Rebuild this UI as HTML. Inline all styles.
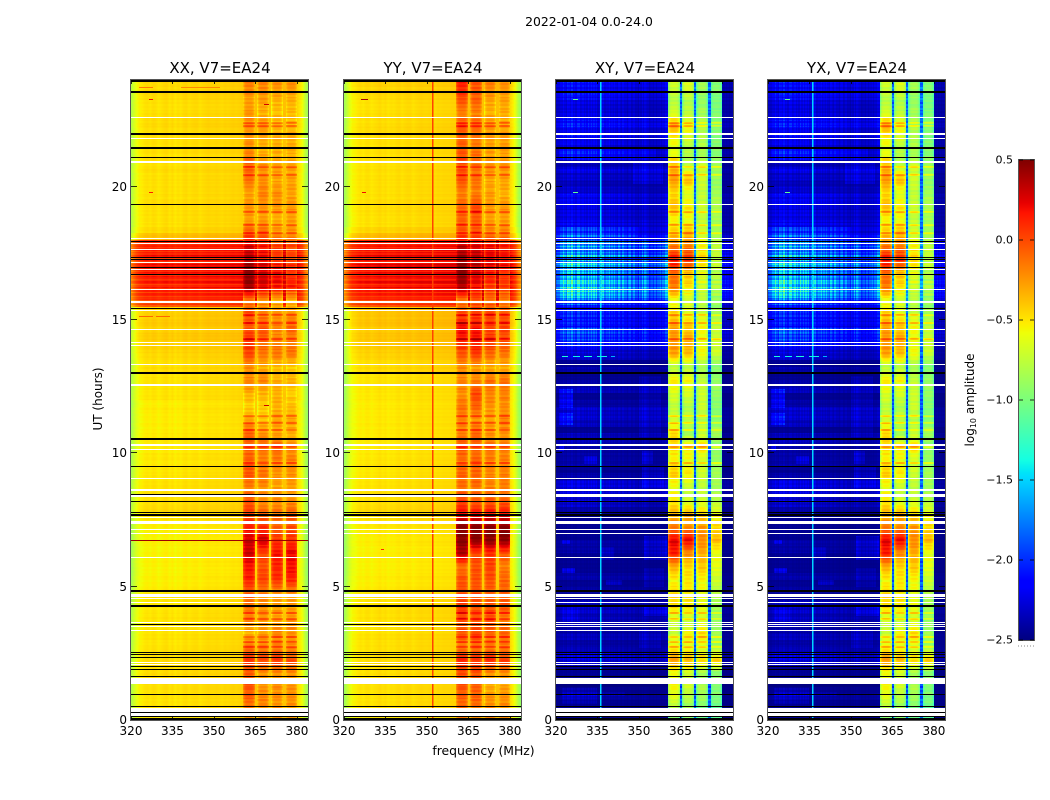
<!DOCTYPE html>
<html>
<head>
<meta charset="utf-8">
<title>2022-01-04 spectrogram</title>
<style>
html,body{margin:0;padding:0;background:#fff;}
#figure{position:relative;width:1050px;height:800px;overflow:hidden;background:#fff;font-family:"DejaVu Sans","Liberation Sans",sans-serif;}
canvas{position:absolute;image-rendering:pixelated;}
svg{position:absolute;left:0;top:0;}
text{font-family:"DejaVu Sans","Liberation Sans",sans-serif;fill:#000;}
</style>
</head>
<body>
<div id="figure">
<canvas id="cv0" width="177" height="640" style="left:131px;top:80px"></canvas>
<canvas id="cv1" width="177" height="640" style="left:344px;top:80px"></canvas>
<canvas id="cv2" width="177" height="640" style="left:556px;top:80px"></canvas>
<canvas id="cv3" width="177" height="640" style="left:768px;top:80px"></canvas>
<canvas id="cbar" width="15" height="480" style="left:1019px;top:160px"></canvas>
<svg id="ov" width="1050" height="800">
<text x="589" y="26" font-size="12.4" text-anchor="middle">2022-01-04 0.0-24.0</text>
<text x="483.5" y="755" font-size="12.4" text-anchor="middle">frequency (MHz)</text>
<text transform="translate(102,399) rotate(-90)" font-size="12" text-anchor="middle">UT (hours)</text>
<text transform="translate(974,400) rotate(-90)" font-size="12" text-anchor="middle">log<tspan font-size="8" dy="2">10</tspan><tspan dy="-2"> amplitude</tspan></text>
</svg>
</div>
<script>
// ---- categories / ticks ----
const panelTitles = ["XX, V7=EA24","YY, V7=EA24","XY, V7=EA24","YX, V7=EA24"];
const freqTicks = [320,335,350,365,380];
const hourTicks = [0,5,10,15,20];
const cbarTicks = [0.5,0,-0.5,-1,-1.5,-2,-2.5];
const cbarTickLabels = ["0.5","0.0","\u22120.5","\u22121.0","\u22121.5","\u22122.0","\u22122.5"];

// ---- frequency bands (MHz) ----
const bandStarts = [360.6,365.7,370.8,375.9];
const bandEnds = [364.8,369.9,374.9,380.1];

// ---- per-MHz channel profile, parallel hands (log10 amplitude offset) ----
const xxChannels = [-.36,-.24,-.14,-.08,-.06,-.03,-.02,-.04,-.01,-.02,-.05,-.03,-.01,0,-.04,-.01,-.05,-.02,-.04,-.01,0,-.03,-.01,0,0,-.03,-.01,0,.01,0,0,.01,0,-.01,.01,0,.01,.02,.01,.02,.03,.04,.04,.04,.04,.04,.04,.04,.04,.04,.04,.04,.04,.04,.04,.04,.04,.04,.04,.04,.02,-.04,-.12,-.3,-.42];
const yyChannels = [-.42,-.3,-.18,-.1,-.08,-.05,-.03,-.05,-.02,-.02,-.05,-.03,-.02,0,-.03,-.01,-.04,-.02,-.03,-.01,0,-.03,-.01,0,0,-.03,-.01,0,.01,0,0,.01,0,-.01,.01,0,.01,.01,.01,.02,.02,.03,.03,.03,.03,.03,.03,.03,.03,.03,.03,.03,.03,.03,.03,.03,.03,.03,.03,.03,.01,-.06,-.16,-.34,-.46];

// ---- per-MHz channel weight, cross hands ----
const crossChannels = [.6,.85,1,1,1.1,1.1,1,1.05,.95,.95,1,1.05,.95,1,.95,.9,1.1,.9,.85,.9,.85,.8,.85,.75,.8,.7,.7,.65,.7,.6,.65,.75,.85,.6,.55,.55,.6,.65,.7,.8,1,1,1,1,1,1,1,1,1,1,1,1,1,1,1,1,1,1,1,1,.4,.35,.35,.3,.3];
// fine channel-to-channel ripple (half-MHz steps, cycling)
const crossRipple = [1,1.16,.84,1.08,.9,1.22,.95,.78,1.14,1.03,.86,1.2,.92,1.06,.8,1.12,1.26,.9,.97,1.16,.84,1.03,.78,1.14,.95,1.22,.86,1.08,.92,1.16,.8,1,1.12,.9,1.2,.84,1.06];
// fine time-to-time ripple (0.07h steps, cycling)
const timeRipple = [.1,-.25,.3,-.1,.2,-.35,.05,.35,-.2,.15,-.3,.25,-.05,.4,-.15,-.3,.2,.1,-.25,.3,-.4,.15,.05,-.2,.35,-.1,.25,-.3,.1,-.15,.3,-.05,.2,-.35,.15,.4,-.25,.05,-.1,.25,-.2];

// ---- quarter-hour background levels, 0h to 24h, 4 values per hour ----
const xxBackground = [
-.47,-.47,-.47,-.47, -.46,-.46,-.45,-.45, -.44,-.46,-.46,-.47, -.47,-.47,-.48,-.47,
-.48,-.48,-.48,-.49, -.51,-.51,-.52,-.51, -.52,-.52,-.51,-.52, -.51,-.5,-.46,-.44,
-.45,-.46,-.46,-.47, -.48,-.48,-.49,-.48, -.49,-.49,-.49,-.5, -.5,-.5,-.49,-.5,
-.47,-.48,-.47,-.47, -.45,-.46,-.44,-.42, -.41,-.39,-.41,-.39, -.4,-.42,.04,.1,
.12,.12,.14,.14, .14,.15,.13,.1, -.36,-.44,-.46,-.46, -.46,-.45,-.46,-.46,
-.46,-.46,-.45,-.46, -.46,-.45,-.46,-.45, -.45,-.44,-.45,-.46, -.46,-.44,-.44,-.44];
const yyBackground = [
-.47,-.47,-.46,-.47, -.46,-.46,-.46,-.46, -.45,-.46,-.46,-.46, -.46,-.47,-.47,-.46,
-.46,-.47,-.47,-.48, -.5,-.5,-.51,-.51, -.51,-.51,-.5,-.5, -.49,-.48,-.45,-.44,
-.45,-.46,-.46,-.47, -.48,-.48,-.47,-.48, -.48,-.49,-.49,-.49, -.49,-.49,-.49,-.49,
-.48,-.48,-.47,-.47, -.44,-.45,-.42,-.4, -.38,-.37,-.39,-.36, -.37,-.38,.06,.12,
.15,.16,.17,.16, .18,.18,.16,.13, -.34,-.42,-.46,-.46, -.45,-.45,-.46,-.46,
-.46,-.46,-.46,-.46, -.46,-.46,-.46,-.45, -.44,-.45,-.45,-.46, -.46,-.44,-.43,-.42];
const crossActivity = [
.1,.1,.1,.15, .1,.05,.1,.1, .25,.3,.2,.15, .2,.15,.2,.2,
.25,.2,.1,.15, .1,.15,.1,.1, .1,.15,.15,.1, .1,.1,.1,.15,
.25,.25,.3,.3, .15,.1,.15,.15, .15,.2,.2,.1, .2,.25,.25,.15,
.1,.2,.15,.1, .15,.1,.25,.3, .5,.6,.65,.45, .5,.45,.6,.95,
1,1.05,.85,.8, .9,.85,.75,.8, .5,.4,.35,.3, .3,.35,.35,.25,
.2,.25,.3,.2, .35,.35,.35,.4, .35,.45,.35,.3, .3,.4,.4,.4];

// ---- brighter noise patches in the cross hands ----
const patchFreqStarts = [321,348,320,321,321,350,351,330,321,351,336,322,352,322,338,352,352,322,350,322,322];
const patchFreqEnds = [356,358.6,350,326,326,358,355,335,323,359,341,325,360,327,344,360,359,328,358,335,345];
const patchHourStarts = [21.1,20.1,18.1,11.7,11.05,10.6,9.6,9.6,10.1,8.7,6,6.6,6,5.5,5.05,3.9,5,3.7,2.7,.6,.9];
const patchHourEnds = [21.4,20.9,18.5,12.4,11.5,12.9,10.1,9.9,10.3,9.5,6.5,6.75,6.9,5.7,5.25,4.3,5.7,4.2,3.4,1.2,1.05];
const patchDeltas = [.14,.14,.18,.2,.18,.1,.18,.14,.18,.14,.1,.14,.18,.18,.14,.18,.1,.07,.1,.07,.07];

// ---- fine stripes across the 15.5h-18h disturbance, 0.05h per value ----
const stormStripes = [-.08,.05,0,.08,-.05,.06,.02,-.06,.05,.08,-.1,.04,.06,-.04,.08,.02,-.08,.05,.1,0,-.06,.03,.07,-.03,.04,.08,-.05,.02,.06,-.07,.05,.09,0,-.04,.06,.03,-.08,.04,.08,-.02,.05,-.06,.07,.02,-.05,.06,.01,-.07,.04,.03];

// ---- half-hour band levels, 0h to 24h ----
const xxBand1 = [-.1,.05,.1,.05,.2,0,-.2,-.05,0,.05,.25,.3,.42,.42,.25,.15,.1,-.05,.1,.05,.05,.05,-.15,-.3,-.2,-.05,-.1,.15,.2,.1,.1,0,.55,.55,.48,.4,.1,-.15,-.1,-.15,0,.05,-.05,-.1,-.1,-.1,-.15,-.05];
const xxBand2 = [-.1,-.05,-.12,-.1,.15,-.05,-.15,-.1,-.1,-.05,.15,.1,.15,.42,.2,.05,-.1,-.1,0,-.05,0,-.1,-.25,-.3,-.2,-.05,-.2,0,.05,.1,-.05,-.1,.38,.4,.32,.28,.05,-.15,-.1,-.05,-.1,-.1,-.2,-.2,-.1,-.2,-.15,-.05];
const xxBand3 = [-.15,-.1,-.1,-.1,.2,-.05,-.05,-.15,-.15,-.1,.2,.25,.3,.2,.05,0,-.1,-.15,-.1,-.05,.05,-.15,-.15,-.2,-.2,-.2,-.25,0,-.05,-.05,-.1,-.2,.3,.3,.2,.15,-.1,-.2,-.1,-.1,-.15,-.15,-.2,-.2,-.2,-.25,-.2,-.1];
const xxBand4 = [-.15,-.1,-.1,-.1,.15,-.1,-.1,-.1,-.15,-.1,.25,.3,.35,.2,.1,.05,-.1,-.15,-.1,-.05,-.1,-.2,-.15,-.25,-.3,-.2,-.3,0,-.05,.05,-.1,-.2,.25,.2,.15,.1,-.1,-.15,-.1,-.15,-.15,-.15,-.2,-.2,-.2,-.25,-.2,-.1];
const yyBand1 = [0,.05,.1,.1,.25,-.05,.1,.1,.2,.1,.1,0,.5,.62,.62,.3,.15,0,.05,0,.1,-.05,-.05,0,-.1,-.05,-.1,.1,.25,.35,.1,0,.5,.55,.55,.45,.1,.05,.05,-.05,.1,.1,.1,.05,.1,-.05,.1,.25];
const yyBand2 = [-.05,.05,.05,.1,.2,0,.15,.1,.1,.1,.1,.1,.15,.62,.62,.3,.05,0,.05,.05,0,.05,-.1,.05,.15,-.05,-.15,.2,.3,.3,.15,.1,.3,.38,.45,.38,.1,.05,.15,-.05,0,0,0,-.05,.05,-.05,.05,.1];
const yyBand3 = [-.1,-.1,-.2,-.1,.25,-.05,.05,.1,.1,.05,.1,.15,.2,.62,.62,.3,.05,-.05,-.05,-.05,0,-.1,-.15,-.1,-.05,0,-.2,.05,.2,.15,.15,0,.18,.25,.38,.32,-.05,-.15,-.1,-.15,-.15,-.1,-.15,-.15,-.1,-.2,-.15,-.05];
const yyBand4 = [-.1,-.1,-.15,-.1,.2,-.05,.05,-.05,.1,.05,.05,-.05,.1,.62,.62,.3,.05,-.05,-.05,-.05,-.05,-.1,-.05,-.1,-.05,0,-.2,0,.1,.15,.1,-.05,.15,.2,.32,.25,-.05,-.15,-.1,-.2,-.15,-.1,-.15,-.15,-.15,-.2,-.15,-.1];
const xyBand1 = [-.9,-.65,-.55,-.6,-.25,-.55,-.7,-.7,-.45,-.45,-.55,-.3,.15,.25,-.15,-.35,-.5,-.6,-.4,-.55,-.45,-.45,-.7,-.75,-.65,-.5,-.8,-.25,-.25,-.25,-.45,-.6,-.15,-.15,.2,-.15,-.4,-.55,-.35,-.45,-.25,-.35,-.6,-.55,-.3,-.65,-.8,-.7];
const xyBand2 = [-.9,-.8,-.7,-.7,-.35,-.6,-.55,-.75,-.5,-.5,-.5,-.45,-.2,.25,-.2,-.35,-.7,-.7,-.5,-.6,-.5,-.85,-.75,-.8,-.65,-.55,-.8,-.35,-.3,-.4,-.6,-.7,-.5,-.4,.1,-.15,-.35,-.6,-.5,-.65,-.35,-.75,-.8,-.7,-.55,-.75,-.8,-.65];
const xyBand3 = [-1,-.9,-.8,-.85,-.45,-.7,-.45,-.7,-.6,-.6,-.55,-.4,-.3,-.2,-.25,-.45,-.7,-.75,-.7,-.7,-.45,-.75,-.8,-.7,-.7,-.75,-.85,-.55,-.6,-.55,-.7,-.8,-.7,-.65,-.45,-.55,-.7,-.75,-.7,-.75,-.7,-.7,-.85,-.8,-.8,-.85,-.9,-.85];
const xyBand4 = [-1.1,-1,-.95,-.95,-.4,-.85,-.85,-.9,-.85,-.8,-.7,-.6,-.6,-.35,-.45,-.6,-.8,-.85,-.85,-.9,-.9,-.85,-.95,-.95,-.9,-.9,-.95,-.7,-.7,-.75,-.85,-.9,-.8,-.8,-.75,-.75,-.85,-.85,-.8,-.85,-.9,-.85,-.95,-.95,-.95,-.95,-1,-.95];

// ---- band stripes (hours) ----
const stripeHours = [20.74,20.44,22.39,22.28,19.05,18.56,18.26,11.4,11.14,10.88,10.24,9.64,15.19,14.9,14.3,4,3.8,3.1,2.93,2.74];

// ---- flagged time ranges (hours and widths) ----
const blackHours = [23.96,23.55,21.45,21.08,17.94,17.34,17.27,16.97,16.69,15.45,13.01,10.57,10.52,9.51,8.18,7.8,7.69,4.85,4.29,2.54,2.45,2.36,2,1.91,1.64,.96,.5,.27,.12,.02];
const blackWidths = [.09,.08,.08,.05,.04,.04,.04,.04,.04,.04,.08,.04,.03,.05,.05,.05,.08,.08,.08,.05,.05,.05,.05,.05,.05,.05,.04,.04,.04,.1];
const parallelBlackHours = [21.975,19.35,8.46,3.59];
const parallelBlackWidths = [.08,.05,.05,.04];
const whiteHours = [22.58,21.79,20.94,18.06,17.86,17.63,17.14,16.91,16.16,15.69,15.34,14.63,14.14,14.04,13.35,12.59,12.53,10.3,10.15,9.06,8.64,8.4,7.61,7.39,7.15,6.99,6.1,4.67,4.55,4.39,3.66,3.5,3.34,2.16,2.09,1.47,.375,.21];
const whiteWidths = [.05,.05,.07,.05,.05,.05,.05,.04,.05,.08,.05,.05,.05,.05,.05,.05,.05,.07,.05,.05,.07,.08,.05,.12,.05,.05,.05,.12,.04,.05,.05,.05,.05,.05,.05,.24,.17,.1];

// ---- narrow vertical interference lines ----
const crossLineFreqs = [336];
const crossLineLevels = [-1.5];
const yyLineFreqs = [351.9];
const yyLineLevels = [.02];

// ---- short horizontal streaks: hour, start MHz, end MHz, level ----
const xxStreakHours = [23.74,23.74,23.3,19.8,23.1,11.8,15.15,15.15,6.74];
const xxStreakStarts = [323,338,326.5,326.5,368,368,323,329,320];
const xxStreakEnds = [328,352,328,328,370,370,328,334,384];
const xxStreakLevels = [-.15,-.2,.2,.15,.3,.3,-.1,-.1,.42];
const yyStreakHours = [23.3,19.8,6.4];
const yyStreakStarts = [326,326.5,333.5];
const yyStreakEnds = [328.5,328,334.5];
const yyStreakLevels = [.4,.2,.1];
const crossStreakHours = [13.65,13.65,13.65,13.65,13.65,23.3,19.8];
const crossStreakStarts = [322,326,330,335,340,326,326];
const crossStreakEnds = [324.5,328.5,333,338.5,341.5,328,328];
const crossStreakLevels = [-1.35,-1.4,-1.35,-1.4,-1.6,-1.1,-1.1];

const panels = [
 {kind:"parallel",channels:xxChannels,background:xxBackground,bands:[xxBand1,xxBand2,xxBand3,xxBand4],lines:[],levels:[],sH:xxStreakHours,sA:xxStreakStarts,sB:xxStreakEnds,sV:xxStreakLevels},
 {kind:"parallel",channels:yyChannels,background:yyBackground,bands:[yyBand1,yyBand2,yyBand3,yyBand4],lines:yyLineFreqs,levels:yyLineLevels,sH:yyStreakHours,sA:yyStreakStarts,sB:yyStreakEnds,sV:yyStreakLevels},
 {kind:"cross",channels:crossChannels,background:crossActivity,bands:[xyBand1,xyBand2,xyBand3,xyBand4],lines:crossLineFreqs,levels:crossLineLevels,sH:crossStreakHours,sA:crossStreakStarts,sB:crossStreakEnds,sV:crossStreakLevels},
 {kind:"cross",channels:crossChannels,background:crossActivity,bands:[xyBand1,xyBand2,xyBand3,xyBand4],lines:crossLineFreqs,levels:crossLineLevels,sH:crossStreakHours,sA:crossStreakStarts,sB:crossStreakEnds,sV:crossStreakLevels}
];
const panelLefts = [131,344,556,768];

// ---- axis functions ----
const PW = 177, PH = 640, PT = 80;
function freqToX(f){return (f-320)*PW/64;}
function xToFreq(x){return 320+(x+.5)*64/PW;}
function hourToY(h){return PH-h*PH/24;}
function yToHour(y){return (PH-y-.5)*24/PH;}
function levelToT(v){return Math.max(0,Math.min(1,(v+2.5)/3));}

function ramp(t,xs,ys){
  for(let i=1;i<xs.length;i++){ if(t<=xs[i]) return ys[i-1]+(ys[i]-ys[i-1])*(t-xs[i-1])/(xs[i]-xs[i-1]); }
  return ys[ys.length-1];
}
function jet(t){
  return [
    255*ramp(t,[0,.35,.66,.89,1],[0,0,1,1,.5]),
    255*ramp(t,[0,.125,.375,.64,.91,1],[0,0,1,1,0,0]),
    255*ramp(t,[0,.11,.34,.65,1],[.5,1,1,0,0])
  ];
}
function interpChannel(arr,f){
  const p=Math.max(0,Math.min(arr.length-1.001,f-320));
  const i=Math.floor(p);
  return arr[i]+(arr[i+1]-arr[i])*(p-i);
}
function bandLevel(arr,h){
  const p=Math.max(0,Math.min(arr.length-1.001,h/.5-.5));
  const i=Math.floor(p);
  return arr[i]+(arr[i+1]-arr[i])*(p-i);
}
function stormDelta(h){
  if(h<15.5||h>=18) return 0;
  return stormStripes[Math.min(stormStripes.length-1,Math.floor((h-15.5)/.05))];
}
function stripeDelta(h){
  for(let i=0;i<stripeHours.length;i++){ if(Math.abs(h-stripeHours[i])<.035) return .2; }
  return 0;
}
function timeWiggle(h,shift){
  return timeRipple[(Math.floor(Math.max(0,h)/.07)+shift)%timeRipple.length];
}
function patchDelta(f,h){
  let d=0;
  for(let i=0;i<patchDeltas.length;i++){
    if(f>=patchFreqStarts[i]&&f<=patchFreqEnds[i]&&h>=patchHourStarts[i]&&h<=patchHourEnds[i]) d+=patchDeltas[i];
  }
  return d;
}
function cellLevel(p,f,h){
  const bg=p.background[Math.max(0,Math.min(95,Math.floor(h/.25)))];
  const sd=stormDelta(h);
  let band=-1,pos=0;
  for(let b=0;b<4;b++){ if(f>=bandStarts[b]&&f<=bandEnds[b]){band=b;pos=(f-bandStarts[b])/(bandEnds[b]-bandStarts[b]);} }
  const inBandRange=f>=bandStarts[0]&&f<=bandEnds[3];
  if(p.kind==="parallel"){
    if(band>=0){
      const e=Math.pow(Math.abs(2*pos-1),4);
      return bandLevel(p.bands[band],h)-.12-.2*e+sd*.8+stripeDelta(h)+timeWiggle(h,band*9)*.14;
    }
    if(inBandRange) return bg+.08+sd;
    return bg+interpChannel(p.channels,f)+sd+timeWiggle(h,0)*.03;
  }
  if(band>=0){
    const e=Math.pow(Math.abs(2*pos-1),4);
    return bandLevel(p.bands[band],h)-.3*e+sd*.8+stripeDelta(h)*1.2+timeWiggle(h,band*7)*.14;
  }
  if(inBandRange) return -1.9+bg*.25+timeWiggle(h,3)*.35;
  const ch=Math.min(p.channels.length-1,Math.max(0,Math.floor(f-320)));
  const rip=crossRipple[Math.floor((f-320)/.5)%crossRipple.length];
  const act=Math.max(0,bg-.05+sd*2+patchDelta(f,h));
  return -2.5+act*p.channels[ch]*rip*(1+timeWiggle(h,0)*.6);
}

function drawPanel(idx){
  const p=panels[idx];
  const ctx=document.getElementById("cv"+idx).getContext("2d");
  const img=ctx.createImageData(PW,PH);
  for(let y=0;y<PH;y++){
    const h=yToHour(y);
    for(let x=0;x<PW;x++){
      const c=jet(levelToT(cellLevel(p,xToFreq(x),h)));
      const o=(y*PW+x)*4;
      img.data[o]=c[0];img.data[o+1]=c[1];img.data[o+2]=c[2];img.data[o+3]=255;
    }
  }
  ctx.putImageData(img,0,0);
  // vertical lines
  p.lines.forEach(function(f,i){
    const c=jet(levelToT(p.levels[i]));
    ctx.fillStyle="rgb("+c.map(Math.round).join(",")+")";
    ctx.fillRect(Math.round(freqToX(f)),0,1.5,PH);
  });
  // streaks
  p.sH.forEach(function(h,i){
    const c=jet(levelToT(p.sV[i]));
    ctx.fillStyle="rgb("+c.map(Math.round).join(",")+")";
    const x0=Math.round(freqToX(p.sA[i])),x1=Math.round(freqToX(p.sB[i]));
    ctx.fillRect(x0,Math.round(hourToY(h)),x1-x0,1);
  });
  // flags
  function flag(h,w,col){
    const th=Math.max(1,Math.round(w*PH/24));
    const y0=Math.round(hourToY(h)-th/2);
    ctx.fillStyle=col;
    ctx.fillRect(0,y0,PW,th);
  }
  whiteHours.forEach(function(h,i){flag(h,whiteWidths[i],"#fff");});
  blackHours.forEach(function(h,i){flag(h,blackWidths[i],"#000");});
  parallelBlackHours.forEach(function(h,i){flag(h,parallelBlackWidths[i],p.kind==="parallel"?"#000":"#fff");});
}
[0,1,2,3].forEach(drawPanel);

// colorbar
(function(){
  const ctx=document.getElementById("cbar").getContext("2d");
  for(let y=0;y<480;y++){
    const c=jet(1-(y+.5)/480);
    ctx.fillStyle="rgb("+c.map(Math.round).join(",")+")";
    ctx.fillRect(0,y,15,1);
  }
})();

// overlay
const NS="http://www.w3.org/2000/svg";
const ov=document.getElementById("ov");
function mk(tag,attrs,parent){
  const el=document.createElementNS(NS,tag);
  for(const k in attrs) el.setAttribute(k,attrs[k]);
  (parent||ov).appendChild(el);
  return el;
}
panelLefts.forEach(function(L,pi){
  const g=mk("g",{});
  
  
  const t=mk("text",{x:L+PW/2+.5,y:73,"font-size":15,"text-anchor":"middle"},g);
  t.textContent=panelTitles[pi];
  
  
  const frame=mk("rect",{x:L-.5,y:PT-.5,width:PW+1,height:PH+1,fill:"none",stroke:"#555","stroke-width":1},g);
  
  
  freqTicks.forEach(function(f){
    const x=Math.round(L+freqToX(f))+.5;
    const a=mk("line",{x1:x,x2:x,y1:PT,y2:PT+4,stroke:"#000","stroke-width":.8},g);
    
    
    const b=mk("line",{x1:x,x2:x,y1:PT+PH-4,y2:PT+PH,stroke:"#000","stroke-width":.8},g);
    
    
    const lab=mk("text",{x:L+freqToX(f),y:735,"font-size":12,"text-anchor":"middle"},g);
    lab.textContent=String(f);
    
    
  });
  hourTicks.forEach(function(h){
    const y=Math.round(PT+hourToY(h))-.5;
    const a=mk("line",{x1:L,x2:L+6,y1:y,y2:y,stroke:"#000","stroke-width":.8},g);
    
    
    const b=mk("line",{x1:L+PW-6,x2:L+PW,y1:y,y2:y,stroke:"#000","stroke-width":.8},g);
    
    
    const lab=mk("text",{x:L-4,y:y+4.5,"font-size":12,"text-anchor":"end"},g);
    lab.textContent=String(h);
    
    
  });
});
// colorbar axis
(function(){
  const g=mk("g",{});
  
  
  const frame=mk("rect",{x:1018.5,y:159.5,width:16,height:481,fill:"none",stroke:"#555","stroke-width":1},g);
  
  
  cbarTicks.forEach(function(v,i){
    const y=Math.round(160+(0.5-v)*160);
    const a=mk("line",{x1:1019,x2:1023,y1:y,y2:y,stroke:"#000","stroke-width":.8},g);
    
    
    const b=mk("line",{x1:1030,x2:1034,y1:y,y2:y,stroke:"#000","stroke-width":.8},g);
    
    
    const lab=mk("text",{x:1013,y:y+3.5,"font-size":11,"text-anchor":"end"},g);
    lab.textContent=cbarTickLabels[i];
    
    
  });
  const dots=mk("line",{x1:1018,x2:1034,y1:646,y2:646,stroke:"#888","stroke-width":1,"stroke-dasharray":"1 2"},g);
  
  
})();
</script>
</body>
</html>
